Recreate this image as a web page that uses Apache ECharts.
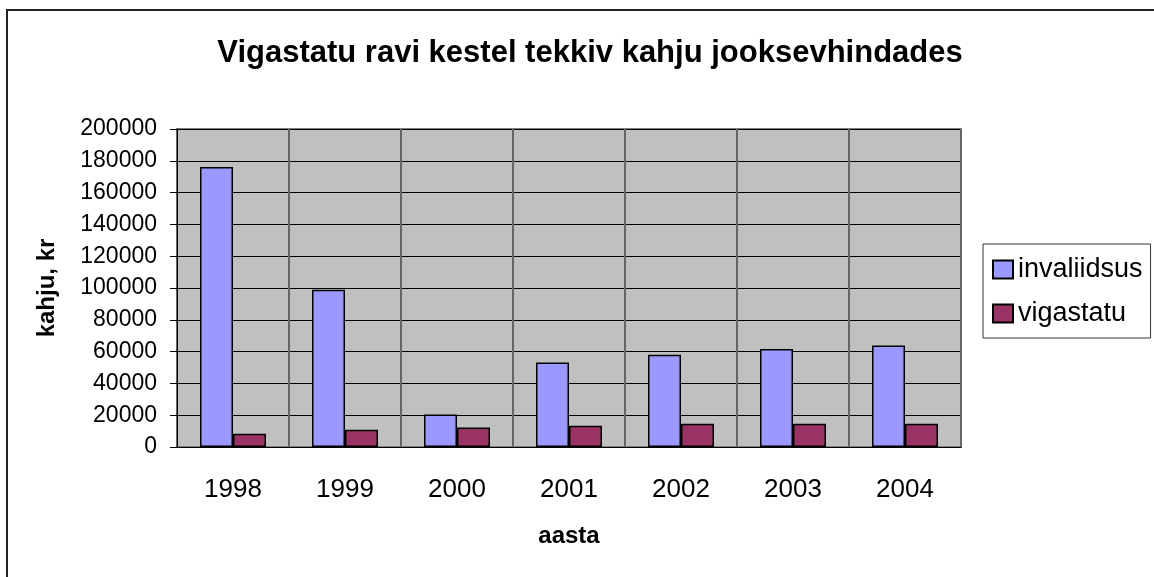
<!DOCTYPE html>
<html>
<head>
    <meta charset="utf-8">
    <title>Vigastatu ravi kestel tekkiv kahju</title>
    <script src="https://cdn.jsdelivr.net/npm/echarts@6/dist/echarts.min.js"></script>
    <style>
        html, body { margin: 0; padding: 0; background: #fff; }
        #chart { width: 1154px; height: 577px; }
    </style>
</head>
<body>
<div id="chart"></div>
<script>
    var years = ['1998', '1999', '2000', '2001', '2002', '2003', '2004'];
    var invaliidsus = [176100, 98900, 20500, 53200, 58000, 61600, 63900];
    var vigastatu = [8400, 10900, 12300, 13400, 14600, 14600, 14600];
    var yTicks = { min: 0, max: 200000, step: 20000 };

    var font = 'Arial, "Liberation Sans", sans-serif';
    var chart = echarts.init(document.getElementById('chart'));

    var option = {
        backgroundColor: '#fff',
        animation: false,
        title: {
            text: 'Vigastatu ravi kestel tekkiv kahju jooksevhindades',
            left: 585,
            textAlign: 'center',
            top: 33,
            textStyle: { fontFamily: font, fontSize: 31, fontWeight: 'bold', color: '#000' }
        },
        graphic: [{
            type: 'rect',
            shape: { x: 7, y: 10, width: 1200, height: 700 },
            style: { fill: 'none', stroke: '#222', lineWidth: 2 },
            silent: true
        }],
        legend: {
            orient: 'vertical',
            left: 983,
            top: 244,
            padding: [12, 8, 11, 9],
            itemGap: 17,
            itemWidth: 20,
            itemHeight: 18,
            icon: 'rect',
            borderColor: '#333',
            borderWidth: 1,
            textStyle: { fontFamily: font, fontSize: 27, color: '#000' },
            data: ['invaliidsus', 'vigastatu']
        },
        grid: {
            left: 177,
            top: 129,
            width: 784,
            height: 318,
            show: true,
            backgroundColor: '#c0c0c0',
            borderColor: '#808080',
            borderWidth: 2
        },
        xAxis: {
            type: 'category',
            data: years,
            name: 'aasta',
            nameLocation: 'middle',
            nameGap: 77,
            nameTextStyle: { fontFamily: font, fontSize: 24, fontWeight: 'bold', color: '#000' },
            axisLine: { lineStyle: { color: '#000', width: 1 } },
            axisTick: { length: 10, lineStyle: { color: '#000' } },
            axisLabel: { fontFamily: font, fontSize: 26, color: '#000', margin: 30 },
            splitLine: { show: true, lineStyle: { color: '#666', width: 2 } }
        },
        yAxis: {
            type: 'value',
            min: yTicks.min,
            max: yTicks.max,
            interval: yTicks.step,
            name: 'kahju, kr',
            nameLocation: 'middle',
            nameGap: 118,
            nameTextStyle: { fontFamily: font, fontSize: 24, fontWeight: 'bold', color: '#000' },
            axisLine: { show: true, lineStyle: { color: '#000', width: 1 } },
            axisTick: { show: true, length: 7, lineStyle: { color: '#000' } },
            axisLabel: {
                fontFamily: font, fontSize: 23, color: '#000', margin: 20,
                formatter: function (v) { return String(v); }
            },
            splitLine: { show: true, lineStyle: { color: '#000', width: 1 } }
        },
        series: [{
            name: 'invaliidsus',
            type: 'bar',
            data: invaliidsus,
            barWidth: 33,
            barGap: '0%',
            itemStyle: { color: '#9999ff', borderColor: '#000', borderWidth: 1.5 }
        }, {
            name: 'vigastatu',
            type: 'bar',
            data: vigastatu,
            barWidth: 33,
            barGap: '0%',
            itemStyle: { color: '#993366', borderColor: '#000', borderWidth: 1.5 }
        }]
    };
    chart.setOption(option);
</script>
</body>
</html>
